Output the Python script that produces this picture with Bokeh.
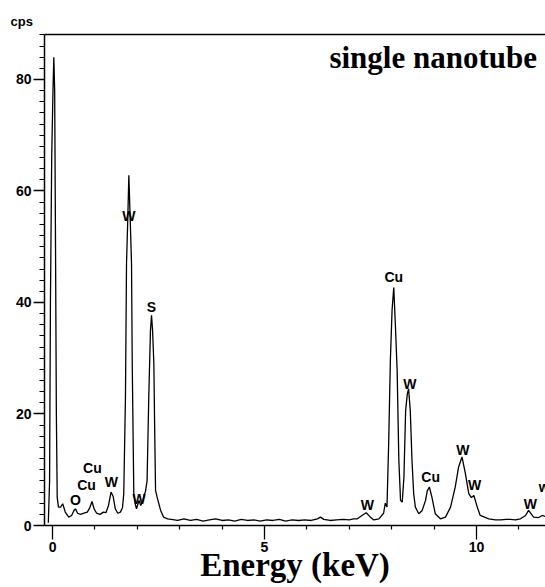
from bokeh.plotting import figure
from bokeh.models import Range1d, LinearAxis, FixedTicker, Label, ColumnDataSource
from bokeh.core.properties import value
from bokeh.embed import file_html
from bokeh.resources import INLINE

# ---- data ----
energy_kev = [
    -0.10, -0.07, -0.05, -0.02, 0.01, 0.03, 0.05, 0.07, 0.09, 0.11, 0.14,
    0.19, 0.24, 0.30, 0.38, 0.45, 0.50, 0.54, 0.59, 0.66, 0.74, 0.82, 0.88,
    0.93, 0.98, 1.04, 1.12, 1.20, 1.26, 1.32, 1.38, 1.43, 1.48, 1.54, 1.60,
    1.65, 1.68, 1.72, 1.745, 1.776, 1.80, 1.84, 1.863, 1.88, 1.917, 1.95,
    1.98, 2.02, 2.04, 2.08, 2.12, 2.16, 2.19, 2.23, 2.27, 2.31, 2.335, 2.36,
    2.39, 2.41, 2.43, 2.47, 2.55, 2.62, 2.71,
    2.80, 2.95, 3.10, 3.25, 3.40, 3.55, 3.70, 3.85, 4.00, 4.15, 4.30, 4.45,
    4.60, 4.75, 4.90, 5.05, 5.20, 5.35, 5.50, 5.65, 5.80, 5.95, 6.10, 6.25,
    6.32, 6.40, 6.55, 6.70, 6.85, 7.00, 7.10,
    7.19, 7.30, 7.40, 7.50, 7.58, 7.70, 7.81, 7.85, 7.89, 7.93, 7.97, 8.01,
    8.05, 8.09, 8.13, 8.17, 8.21, 8.25, 8.29, 8.33, 8.37, 8.40, 8.44, 8.48,
    8.52, 8.56, 8.64, 8.72, 8.80, 8.84, 8.89, 8.95, 9.03, 9.15, 9.27, 9.39,
    9.50, 9.58, 9.66, 9.74, 9.82, 9.88, 9.94, 10.02, 10.09, 10.29, 10.45,
    10.57, 10.70, 10.80, 10.92, 11.04, 11.16, 11.23, 11.30, 11.35, 11.46,
    11.55, 11.63,
]
counts_cps = [
    0.5, 8.0, 40.0, 66.0, 78.0, 84.0, 78.0, 50.0, 20.0, 5.0, 3.3,
    3.3, 3.9, 2.4, 1.5, 1.8, 2.6, 3.0, 2.2, 2.0, 2.2, 2.4, 3.2,
    4.3, 3.0, 2.2, 2.0, 2.4, 2.3, 3.6, 6.0, 5.2, 3.0, 2.2, 2.4,
    3.2, 5.7, 23.0, 47.0, 55.3, 62.8, 52.9, 47.0, 29.0, 5.7, 3.9,
    3.0, 4.0, 4.5, 3.6, 4.2, 5.5, 6.0, 8.0, 23.0, 35.0, 37.7, 35.0,
    29.0, 17.0, 6.3, 5.0, 2.7, 1.5, 1.2,
    1.1, 0.9, 1.2, 0.9, 1.1, 0.8, 1.0, 1.2, 0.9, 1.0, 0.8, 1.1,
    0.9, 1.0, 0.8, 1.0, 0.9, 1.1, 0.8, 1.0, 0.9, 1.0, 0.9, 1.2,
    1.5, 1.1, 0.9, 1.0, 1.1, 1.0, 1.2,
    1.2, 1.8, 2.3, 1.5, 1.0, 1.2, 2.2, 4.0, 3.3, 14.7, 29.6, 38.6,
    42.7, 35.6, 27.8, 11.7, 4.5, 4.2, 8.7, 20.6, 23.6, 24.5, 20.6, 11.7,
    5.7, 3.3, 2.1, 2.7, 4.5, 6.2, 6.9, 5.1, 2.1, 1.2, 1.5, 3.3,
    6.9, 10.5, 12.3, 9.3, 5.7, 5.0, 5.4, 3.3, 1.8, 1.2, 1.0,
    1.0, 1.1, 1.1, 1.0, 1.2, 1.8, 2.7, 2.0, 1.5, 1.4,
    1.8, 1.6,
]

peak_labels = ["Cu", "Cu", "W", "O", "W", "W", "S", "W", "Cu", "W", "Cu", "W", "W", "W", "w"]
peak_label_x = [0.94, 0.80, 1.39, 0.54, 2.04, 1.80, 2.33, 7.43, 8.05, 8.43, 8.92, 9.68, 9.96, 11.27, 11.60]
peak_label_y = [10.4, 7.3, 7.8, 4.5, 4.8, 55.6, 39.2, 3.6, 44.5, 25.4, 8.7, 13.5, 7.2, 3.9, 6.9]

x_major_ticks = [0, 5, 10]
x_minor_ticks = [1, 2, 3, 4, 6, 7, 8, 9, 11]
y_major_ticks = [0, 20, 40, 60, 80]
y_minor_ticks = [v for v in range(0, 89, 2) if v % 20 != 0]

X_START, X_END = -0.19, 11.63
Y_START, Y_END = 0.0, 88.07

p = figure(width=545, height=587, output_backend="svg", toolbar_location=None,
           x_range=Range1d(X_START, X_END), y_range=Range1d(Y_START, Y_END),
           x_axis_type=None, y_axis_type=None,
           title="cps", title_location="above",
           min_border_left=44, min_border_right=0, min_border_top=34, min_border_bottom=62)
p.outline_line_color = None
p.grid.visible = False
p.background_fill_color = "white"
p.border_fill_color = "white"

p.title.align = "left"
p.title.offset = -34
p.title.text_font = "Liberation Sans"
p.title.text_font_style = "bold"
p.title.text_font_size = "13px"
p.title.text_color = "black"
p.title.standoff = 12

tick_font = "Liberation Sans"

xaxis = LinearAxis(ticker=FixedTicker(ticks=x_major_ticks, minor_ticks=x_minor_ticks))
xaxis.axis_line_color = "black"
xaxis.axis_line_width = 1.5
xaxis.major_tick_out = 14
xaxis.major_tick_in = 0
xaxis.minor_tick_out = 4
xaxis.minor_tick_in = 0
xaxis.major_tick_line_width = 1.3
xaxis.minor_tick_line_width = 1.2
xaxis.major_label_text_font = tick_font
xaxis.major_label_text_font_style = "bold"
xaxis.major_label_text_font_size = "14px"
xaxis.major_label_text_color = "black"
xaxis.major_label_standoff = 2
xaxis.axis_label = "Energy (keV)"
xaxis.axis_label_text_font = "Liberation Serif"
xaxis.axis_label_text_font_style = "bold"
xaxis.axis_label_text_font_size = "33px"
xaxis.axis_label_text_color = "black"
xaxis.axis_label_standoff = -8
p.add_layout(xaxis, "below")

yaxis = LinearAxis(ticker=FixedTicker(ticks=y_major_ticks, minor_ticks=y_minor_ticks))
yaxis.axis_line_color = "black"
yaxis.axis_line_width = 1.5
yaxis.major_tick_out = 11
yaxis.major_tick_in = 0
yaxis.minor_tick_out = 5
yaxis.minor_tick_in = 0
yaxis.major_tick_line_width = 1.3
yaxis.minor_tick_line_width = 1.2
yaxis.major_label_text_font = tick_font
yaxis.major_label_text_font_style = "bold"
yaxis.major_label_text_font_size = "14px"
yaxis.major_label_text_color = "black"
yaxis.major_label_standoff = 2
p.add_layout(yaxis, "left")

top_axis = LinearAxis(ticker=FixedTicker(ticks=[]))
top_axis.axis_line_color = "black"
top_axis.axis_line_width = 1.5
top_axis.major_tick_line_color = None
top_axis.minor_tick_line_color = None
top_axis.major_label_text_font_size = "0px"
top_axis.major_tick_out = 0
top_axis.minor_tick_out = 0
top_axis.major_label_standoff = 0
p.add_layout(top_axis, "above")

p.line(energy_kev, counts_cps, line_color="black", line_width=1.3)

src = ColumnDataSource(dict(x=peak_label_x, y=peak_label_y, t=peak_labels))
p.text(x="x", y="y", text="t", source=src, text_align="center", text_baseline="middle",
       text_font=value("Liberation Sans"), text_font_style="bold", text_font_size="14px",
       text_color="black")

p.add_layout(Label(x=8.98, y=83.94, text="single nanotube", text_align="center",
                   text_baseline="alphabetic", text_font="Liberation Serif",
                   text_font_style="bold", text_font_size="31px", text_color="black"))

open("out.html", "w").write(file_html(p, INLINE))
